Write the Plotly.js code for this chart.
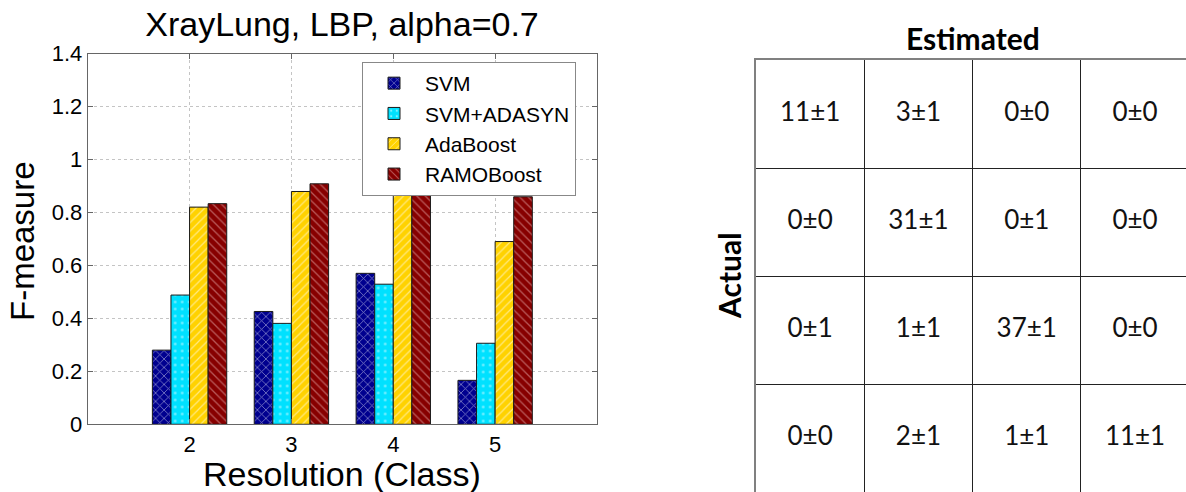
<!DOCTYPE html>
<html>
<head>
<meta charset="utf-8">
<script src="https://cdn.plot.ly/plotly-3.0.1.min.js"></script>
<style>html,body{margin:0;padding:0;background:#fff;}#chart{width:1186px;height:492px;}</style>
</head>
<body>
<div id="chart"></div>
<script>
// ---- bar chart data ----
const classes = [2, 3, 4, 5];
const svm = [0.28, 0.426, 0.570, 0.166];
const svmAdasyn = [0.488, 0.381, 0.529, 0.306];
const adaBoost = [0.82, 0.879, 0.95, 0.690];
const ramoBoost = [0.833, 0.908, 0.96, 0.859];
const yTicks = [0, 0.2, 0.4, 0.6, 0.8, 1, 1.2, 1.4];

// ---- confusion table data ----
const tableCols = [1, 2, 3, 4];
const tableRows = [1, 2, 3, 4];
const row1 = ["11±1", "3±1", "0±0", "0±0"];
const row2 = ["0±0", "31±1", "0±1", "0±0"];
const row3 = ["0±1", "1±1", "37±1", "0±0"];
const row4 = ["0±0", "2±1", "1±1", "11±1"];
const tableCells = [row1, row2, row3, row4];

const F = "Liberation Sans, Arial, sans-serif";
const C = "Lato, Noto Sans, sans-serif";

function barTrace(name, y, bg, fg, shape, size, sol) {
  return {
    type: "bar", name: name, x: classes, y: y, xaxis: "x", yaxis: "y",
    marker: {
      color: bg,
      line: {color: "#1a1a1a", width: 1},
      pattern: {shape: shape, bgcolor: bg, fgcolor: fg, size: size, solidity: sol, fillmode: "overlay"}
    },
    hoverinfo: "x+y+name"
  };
}

const tx = [], ty = [], tt = [];
tableRows.forEach((r, i) => {
  tableCols.forEach((c, j) => {
    tx.push(c); ty.push(r); tt.push(tableCells[i][j]);
  });
});

const data = [
  barTrace("SVM", svm, "#00008f", "#ffffff", "x", 6, 0.25),
  barTrace("SVM+ADASYN", svmAdasyn, "#00e1ff", "#ffffff", ".", 7, 0.12),
  barTrace("AdaBoost", adaBoost, "#ffd200", "#ffffff", "/", 6, 0.2),
  barTrace("RAMOBoost", ramoBoost, "#870000", "#e8b0b0", "\\", 6, 0.22),
  {
    type: "scatter", mode: "text", x: tx, y: ty, text: tt,
    xaxis: "x2", yaxis: "y2", showlegend: false, hoverinfo: "skip",
    textfont: {family: C, size: 26, color: "#111"}
  }
];

const layout = {
  width: 1186, height: 492,
  margin: {l: 0, r: 0, t: 0, b: 0},
  paper_bgcolor: "#ffffff", plot_bgcolor: "#ffffff",
  font: {family: F, color: "#000"},
  barmode: "group", bargap: 0.27, bargroupgap: 0,
  title: {text: "XrayLung, LBP, alpha=0.7", font: {family: F, size: 34, color: "#000"},
          x: 342 / 1186, xanchor: "center", y: 1 - 24 / 492, yanchor: "middle"},
  xaxis: {
    domain: [87.7 / 1186, 597 / 1186], anchor: "y",
    range: [1, 6], tickvals: classes, ticktext: classes.map(String),
    showline: true, linecolor: "#666", linewidth: 1, mirror: "ticks",
    ticks: "inside", ticklen: 5, tickcolor: "#666",
    showgrid: true, gridcolor: "#c4c4c4", griddash: "dot", gridwidth: 1,
    zeroline: false, tickfont: {family: F, size: 22, color: "#000"}
  },
  yaxis: {
    domain: [(492 - 424.3) / 492, (492 - 53.5) / 492], anchor: "x",
    range: [0, 1.4], tickvals: yTicks,
    showline: true, linecolor: "#666", linewidth: 1, mirror: "ticks",
    ticks: "inside", ticklen: 5, tickcolor: "#666",
    showgrid: true, gridcolor: "#c4c4c4", griddash: "dot", gridwidth: 1,
    zeroline: false, tickfont: {family: F, size: 22, color: "#000"}
  },
  xaxis2: {
    domain: [756 / 1186, 1], anchor: "y2", side: "top",
    range: [0.5, 0.5 + 430 / 108.3], tickvals: [1.5, 2.5, 3.5],
    showticklabels: false, ticks: "",
    showgrid: true, gridcolor: "#222", gridwidth: 1, zeroline: false,
    showline: true, linecolor: "#808080", linewidth: 2
  },
  yaxis2: {
    domain: [0, (492 - 60) / 492], anchor: "x2",
    range: [4.5, 0.5], tickvals: [1.5, 2.5, 3.5],
    showticklabels: false, ticks: "",
    showgrid: true, gridcolor: "#222", gridwidth: 1, zeroline: false,
    showline: true, linecolor: "#808080", linewidth: 2
  },
  legend: {
    x: 362 / 1186, xanchor: "left", y: 1 - 62 / 492, yanchor: "top",
    bgcolor: "#ffffff", bordercolor: "#888", borderwidth: 1,
    font: {family: F, size: 21, color: "#000"}, traceorder: "normal",
    itemwidth: 52
  },
  annotations: [
    {text: "Resolution (Class)", xref: "paper", yref: "paper", x: 342 / 1186, y: 1 - 474 / 492,
     xanchor: "center", yanchor: "middle", showarrow: false, font: {family: F, size: 34, color: "#000"}},
    {text: "F-measure", xref: "paper", yref: "paper", x: 23 / 1186, y: 1 - 241 / 492, textangle: -90,
     xanchor: "center", yanchor: "middle", showarrow: false, font: {family: F, size: 33, color: "#000"}},
    {text: "<b>Estimated</b>", xref: "paper", yref: "paper", x: 973 / 1186, y: 1 - 38 / 492,
     xanchor: "center", yanchor: "middle", showarrow: false, font: {family: C, size: 30, color: "#000"}},
    {text: "<b>Actual</b>", xref: "paper", yref: "paper", x: 729 / 1186, y: 1 - 276 / 492, textangle: -90,
     xanchor: "center", yanchor: "middle", showarrow: false, font: {family: C, size: 30, color: "#000"}}
  ],
  showlegend: true
};

Plotly.newPlot("chart", data, layout, {displayModeBar: false, staticPlot: true});
</script>
</body>
</html>
